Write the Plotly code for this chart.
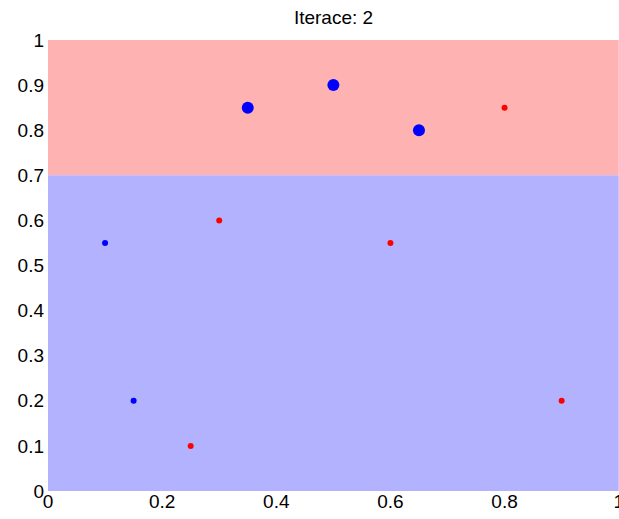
import plotly.graph_objects as go

# data
big_x = [0.35, 0.5, 0.65]
big_y = [0.85, 0.9, 0.8]
blue_x = [0.1, 0.15]
blue_y = [0.55, 0.2]
red_x = [0.3, 0.25, 0.6, 0.8, 0.9]
red_y = [0.6, 0.1, 0.55, 0.85, 0.2]
threshold = 0.7
tick_vals = [0, 0.1, 0.2, 0.3, 0.4, 0.5, 0.6, 0.7, 0.8, 0.9, 1]
x_ticks = [0, 0.2, 0.4, 0.6, 0.8, 1]

fig = go.Figure()
fig.add_shape(type="rect", xref="x", yref="y", x0=0, x1=1, y0=threshold, y1=1,
              fillcolor="#FFB2B2", line_width=0, layer="below")
fig.add_shape(type="rect", xref="x", yref="y", x0=0, x1=1, y0=0, y1=threshold,
              fillcolor="#B2B2FF", line_width=0, layer="below")

fig.add_trace(go.Scatter(x=blue_x, y=blue_y, mode="markers",
                         marker=dict(color="#0000FF", size=6), showlegend=False))
fig.add_trace(go.Scatter(x=red_x, y=red_y, mode="markers",
                         marker=dict(color="#FF0000", size=6), showlegend=False))
fig.add_trace(go.Scatter(x=big_x, y=big_y, mode="markers",
                         marker=dict(color="#0000FF", size=12), showlegend=False))

axis_font = dict(family="Liberation Sans, Arial, sans-serif", size=19, color="black")
fig.update_layout(
    width=619, height=519,
    margin=dict(l=48, r=0, t=40, b=28, autoexpand=False),
    paper_bgcolor="white", plot_bgcolor="white",
    title=dict(text="Iterace: 2", x=0.5, xref="paper", y=1 - 17 / 519, yref="container",
               xanchor="center", yanchor="middle",
               font=dict(family="Liberation Sans, Arial, sans-serif", size=19, color="black")),
    xaxis=dict(range=[0, 1.0005], tickvals=x_ticks, ticktext=[f"{v:g}" for v in x_ticks],
               showgrid=False, zeroline=False, showline=False, automargin=False,
               ticks="", ticklabelstandoff=-3,
               tickfont=axis_font, ticklabeloverflow="allow"),
    yaxis=dict(range=[0, 1], tickvals=tick_vals, ticktext=[f"{v:g}" for v in tick_vals],
               showgrid=False, zeroline=False, showline=False, automargin=False,
               ticks="", ticklabelstandoff=3,
               tickfont=axis_font),
)
fig.write_html("out.html")
